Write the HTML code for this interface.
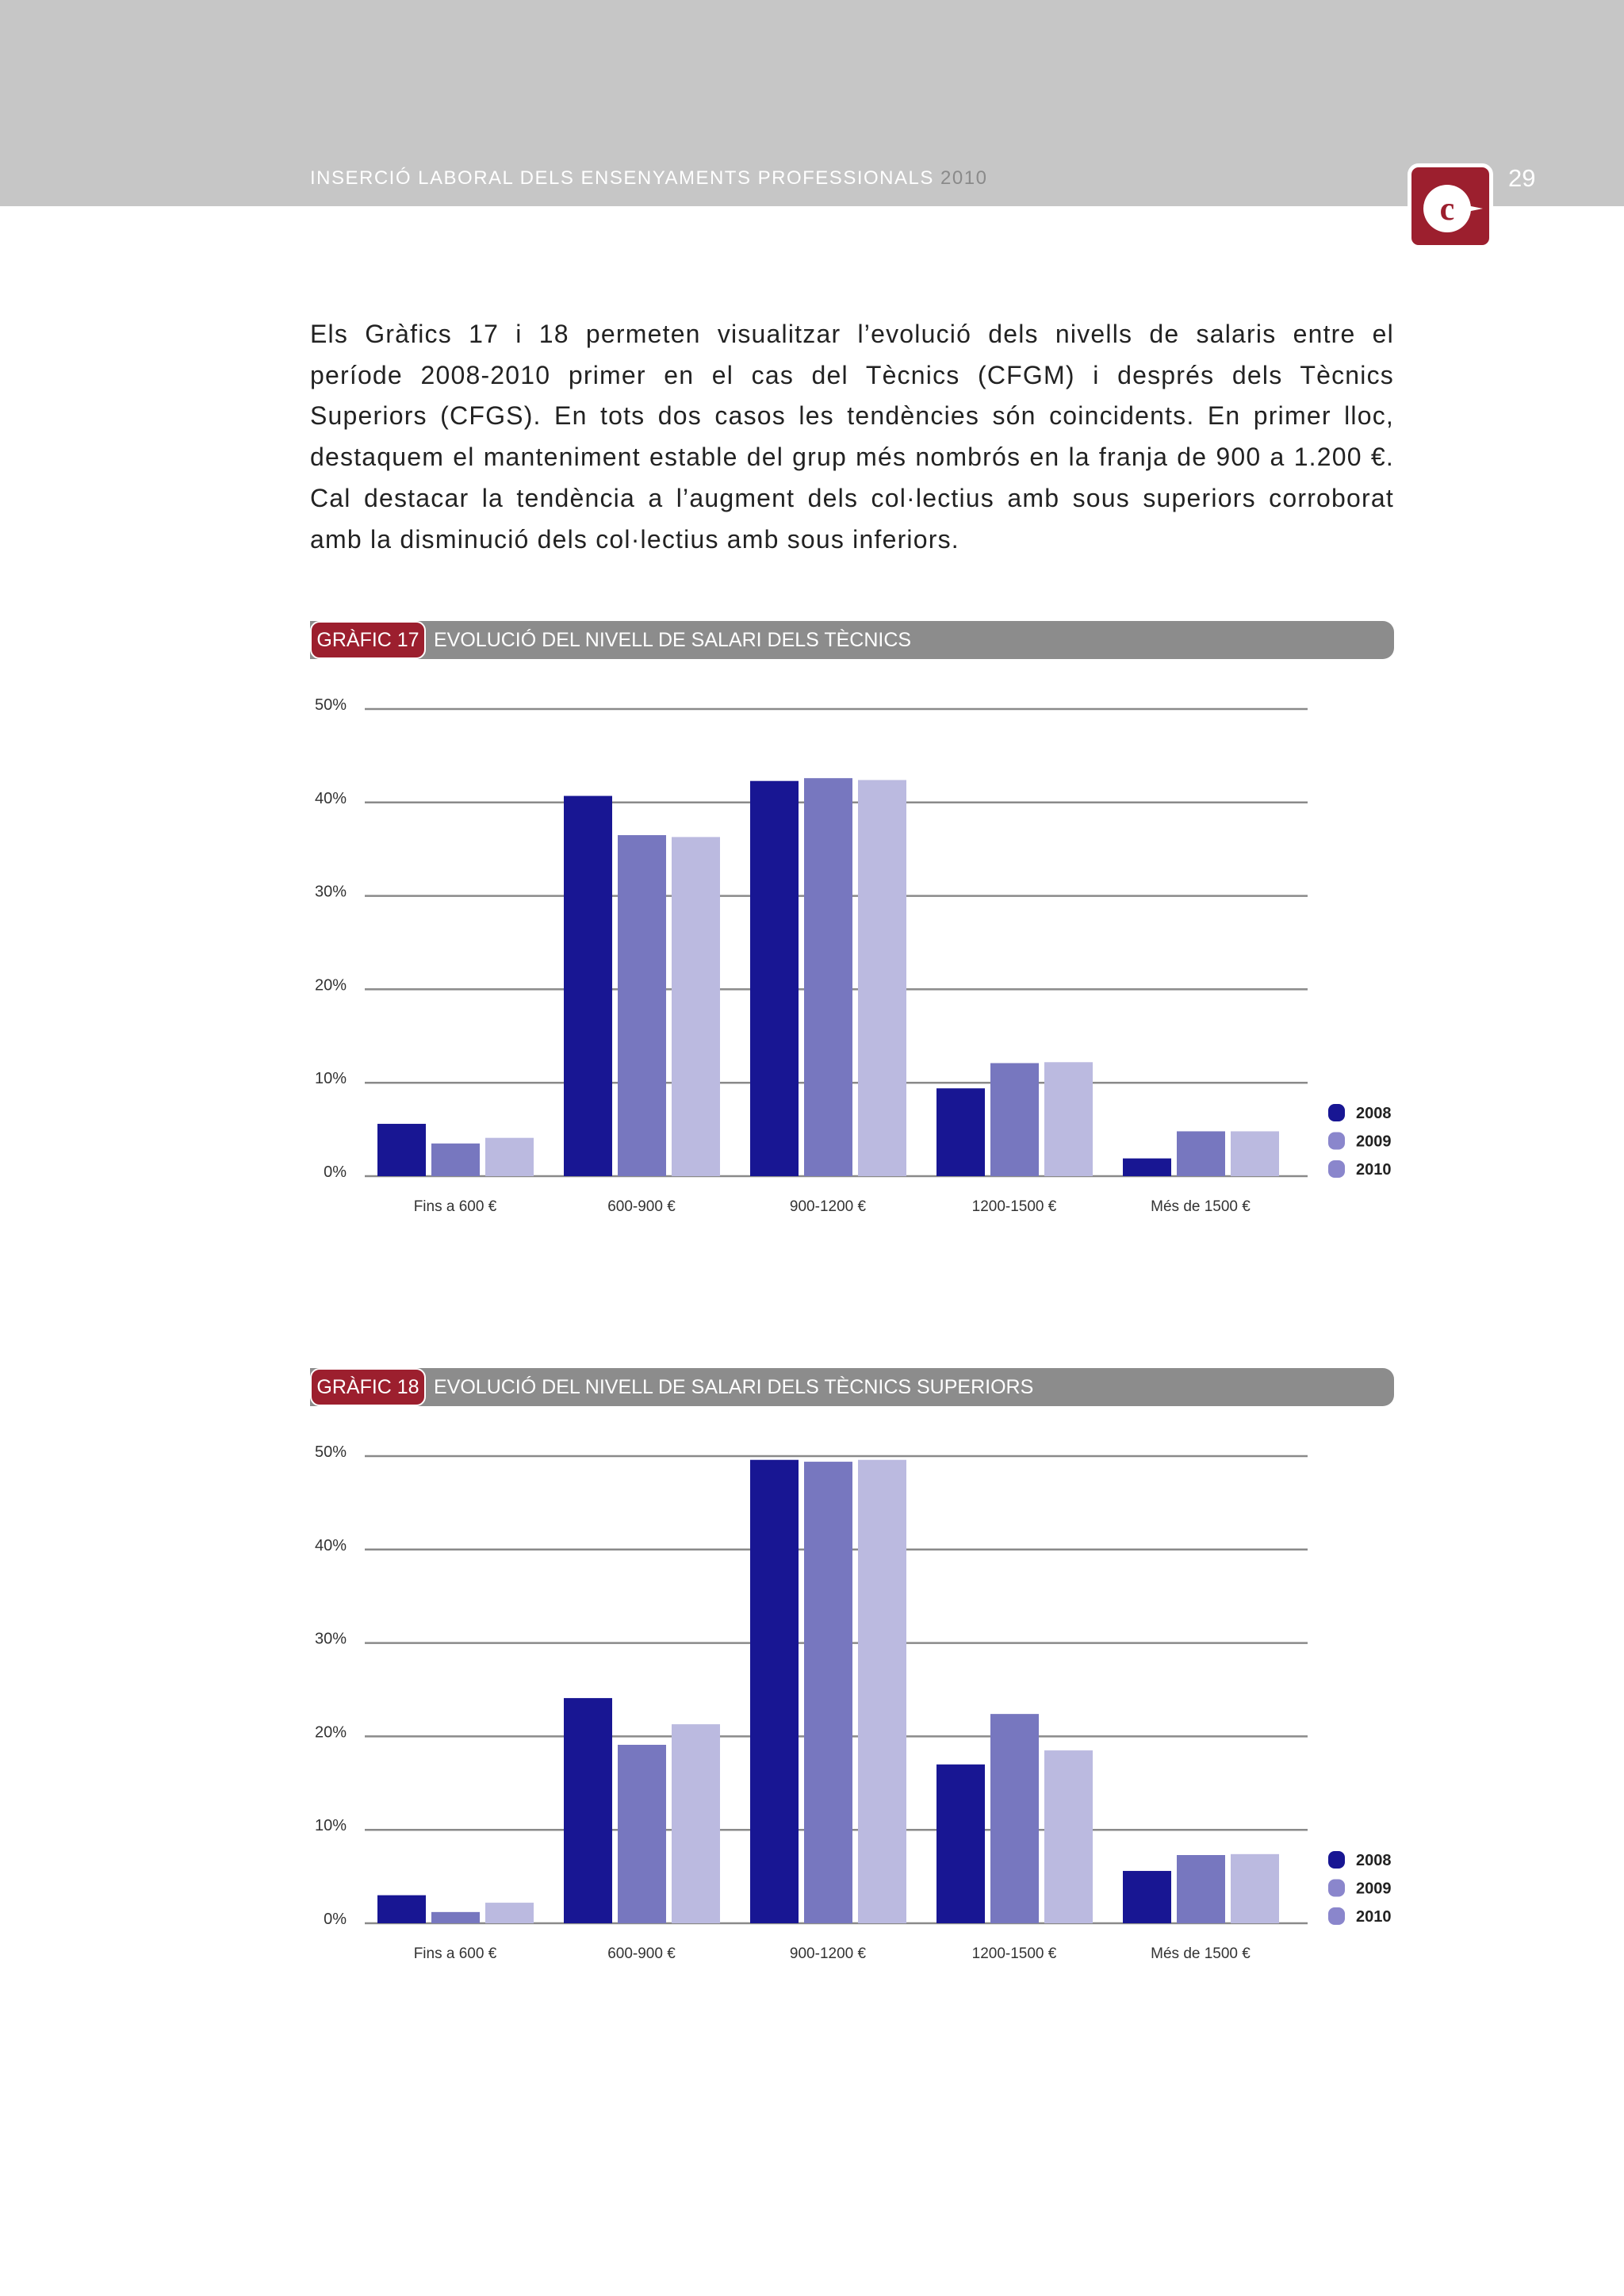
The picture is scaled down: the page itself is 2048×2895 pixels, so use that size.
<!DOCTYPE html>
<html><head><meta charset="utf-8"><style>
body{margin:0;width:2048px;height:2895px;background:#fff;position:relative;overflow:hidden;font-family:"Liberation Sans",sans-serif;}
.abs{position:absolute;}
#para{left:391px;top:396px;width:1367px;font-size:32px;line-height:51.7px;color:#222;letter-spacing:1.2px;}
#para div{text-align:justify;text-align-last:justify;white-space:nowrap;}
#para div.last{text-align-last:left;}
.tbar{left:391px;width:1367px;height:48px;background:#8c8c8c;border-radius:0 14px 14px 0;}
.tred{position:absolute;left:0;top:0;height:44px;width:142px;background:#9c1f2e;border:2px solid #fff;border-radius:12px;color:#fff;font-size:25px;line-height:44px;text-align:center;}
.ttxt{position:absolute;left:156px;top:0;line-height:48px;color:#fff;font-size:25px;}
</style></head><body>
<div class="abs" style="left:0;top:0;width:2048px;height:260px;background:#c6c6c6"></div>
<div class="abs" style="left:391px;top:211px;font-size:24px;color:#fff;letter-spacing:1.5px">INSERCIÓ LABORAL DELS ENSENYAMENTS PROFESSIONALS <span style="color:#8a8a8a">2010</span></div>
<div class="abs" style="left:1902px;top:207px;font-size:31px;color:#fff">29</div>
<div class="abs" style="left:1775px;top:206px;width:98px;height:98px;border:5px solid #fff;border-radius:14px;background:#9c1f2e">
<svg width="98" height="98"><circle cx="45" cy="52" r="30" fill="#fff"/><text x="45" y="66" text-anchor="middle" font-family="Liberation Serif,serif" font-weight="bold" font-size="42" fill="#9c1f2e">c</text><polygon points="60,46 90,52 60,58" fill="#fff"/></svg></div>
<div class="abs" id="para">
<div>Els Gràfics 17 i 18 permeten visualitzar l’evolució dels nivells de salaris entre el</div>
<div>període 2008-2010 primer en el cas del Tècnics (CFGM) i després dels Tècnics</div>
<div>Superiors (CFGS). En tots dos casos les tendències són coincidents. En primer lloc,</div>
<div>destaquem el manteniment estable del grup més nombrós en la franja de 900 a 1.200 €.</div>
<div>Cal destacar la tendència a l’augment dels col·lectius amb sous superiors corroborat</div>
<div class="last">amb la disminució dels col·lectius amb sous inferiors.</div>
</div>
<div class="abs tbar" style="top:783px"><div class="tred">GRÀFIC 17</div><div class="ttxt">EVOLUCIÓ DEL NIVELL DE SALARI DELS TÈCNICS</div></div>
<div class="abs tbar" style="top:1725px"><div class="tred">GRÀFIC 18</div><div class="ttxt">EVOLUCIÓ DEL NIVELL DE SALARI DELS TÈCNICS SUPERIORS</div></div>
<svg id="charts" class="abs" style="left:0;top:0" width="2048" height="2895"></svg>
<script>
const categories=["Fins a 600 €","600-900 €","900-1200 €","1200-1500 €","Més de 1500 €"];
const seriesNames=["2008","2009","2010"];
const yTicks=[0,10,20,30,40,50];
const c17_2008=[5.6,40.7,42.3,9.4,1.9];
const c17_2009=[3.5,36.5,42.6,12.1,4.8];
const c17_2010=[4.1,36.3,42.4,12.2,4.8];
const c18_2008=[3.0,24.1,49.6,17.0,5.6];
const c18_2009=[1.2,19.1,49.4,22.4,7.3];
const c18_2010=[2.2,21.3,49.6,18.5,7.4];
const colors=["#181693","#7777bf","#bbbae0"];
const legColors=["#181693","#8a86cc","#8a86cc"];
const svg=document.getElementById('charts');
const NS="http://www.w3.org/2000/svg";
function mk(t,a){const e=document.createElementNS(NS,t);for(const k in a)e.setAttribute(k,a[k]);svg.appendChild(e);return e;}
function chart(id,zeroY,series){
  const ppu=589/50;
  const y=v=>zeroY-v*ppu;
  const x=(ci,si)=>476+ci*235+si*68;
  yTicks.forEach(t=>{
    const l=mk('line',{x1:460,x2:1649,y1:y(t),y2:y(t),stroke:'#8a8a8a','stroke-width':2.5});
    
    
    const tx=mk('text',{x:437,y:y(t)+1,'text-anchor':'end','font-size':20,fill:'#333','font-family':'Liberation Sans,sans-serif'});
    tx.textContent=t+'%';
    
    
  });
  series.forEach((vals,si)=>{
    vals.forEach((v,ci)=>{
      const r=mk('rect',{x:x(ci,si),y:y(v),width:61,height:zeroY-y(v),fill:colors[si]});
      
      
    });
  });
  categories.forEach((c,ci)=>{
    const tx=mk('text',{x:x(ci,1)+30,y:zeroY+44,'text-anchor':'middle','font-size':19,fill:'#333','font-family':'Liberation Sans,sans-serif'});
    tx.textContent=c;
    
    
  });
  seriesNames.forEach((s,si)=>{
    const ly=zeroY-80+si*35.5;
    const d=mk('rect',{x:1675,y:ly-11,width:21,height:22,rx:8,fill:legColors[si]});
    
    
    const tx=mk('text',{x:1710,y:ly+7,'font-size':20,'font-weight':'bold',fill:'#222','font-family':'Liberation Sans,sans-serif'});
    tx.textContent=s;
    
    
  });
}
chart('chart17',1483,[c17_2008,c17_2009,c17_2010]);
chart('chart18',2425,[c18_2008,c18_2009,c18_2010]);
</script>
</body></html>
